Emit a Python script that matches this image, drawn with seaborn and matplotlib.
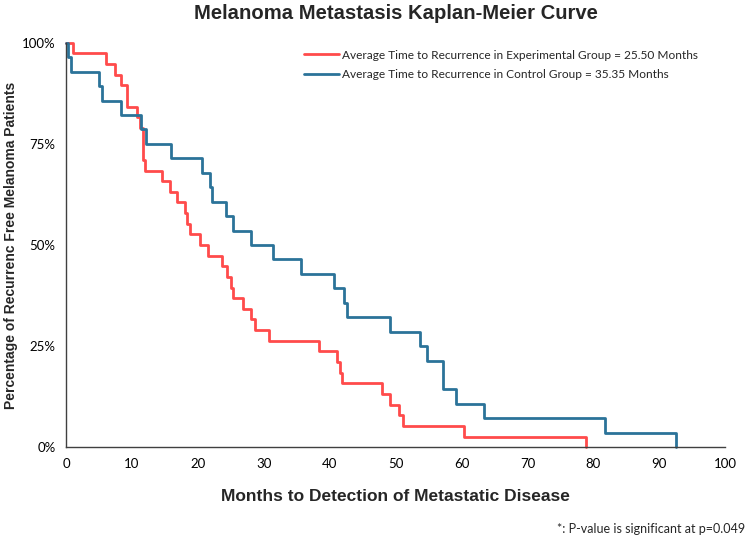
import numpy as np
import pandas as pd
import matplotlib
matplotlib.use("Agg")
import matplotlib.pyplot as plt
import seaborn as sns
from matplotlib.ticker import PercentFormatter

# event times (months), one entry per patient
exp_times = [1.0, 6.1, 7.5, 8.3, 9.3, 9.3, 10.8, 11.2, 11.7, 11.7, 11.7, 12.0,
             14.6, 15.7, 16.8, 18.0, 18.4, 18.8, 20.4, 21.6, 23.6, 24.4, 25.1,
             25.4, 26.8, 28.0, 28.6, 30.8, 38.4, 41.1, 41.5, 41.9, 48.0, 49.1,
             50.5, 51.1, 60.4, 78.9]
ctrl_times = [0.3, 0.8, 5.0, 5.4, 8.4, 11.4, 12.1, 16.0, 20.7, 21.8, 22.2,
              24.3, 25.4, 28.1, 31.4, 35.6, 40.7, 42.2, 42.6, 49.1, 53.7, 54.8,
              57.2, 57.2, 59.1, 63.4, 81.7, 92.5]
group_labels = ["Average Time to Recurrence in Experimental Group = 25.50 Months",
                "Average Time to Recurrence in Control Group = 35.35 Months"]
colors = ["#FF4B4B", "#2B7399"]

x_ticks = list(range(0, 101, 10))
y_ticks = [0, 0.25, 0.5, 0.75, 1.0]


def km_table(times, label):
    # Kaplan-Meier with no censoring: survival drops 1/n per event
    t = np.sort(np.array(times))
    n = len(t)
    xs = np.concatenate([[0.0], t])
    ys = np.concatenate([[1.0], 1 - np.arange(1, n + 1) / n])
    return pd.DataFrame({"month": xs, "surv": ys, "group": label})


df = pd.concat([km_table(exp_times, group_labels[0]),
                km_table(ctrl_times, group_labels[1])], ignore_index=True)

sns.set_style("white")
plt.rcParams["font.family"] = ["Liberation Sans", "DejaVu Sans"]

fig, ax = plt.subplots(figsize=(7.5, 5.42), dpi=100)
plt.subplots_adjust(left=0.088, right=0.967, top=0.921, bottom=0.175)

sns.lineplot(data=df, x="month", y="surv", hue="group", palette=colors,
             estimator=None, sort=False, drawstyle="steps-post",
             linewidth=2, ax=ax, clip_on=False)

ax.set_xlim(0, 100)
ax.set_ylim(0, 1)
ax.set_xticks(x_ticks)
ax.set_yticks(y_ticks)
ax.yaxis.set_major_formatter(PercentFormatter(1.0, decimals=0))
ax.tick_params(direction="inout", length=8, width=1, colors="#404040",
               labelsize=9.5, labelcolor="black")
for lab in ax.get_xticklabels() + ax.get_yticklabels():
    lab.set_family(["Lato", "DejaVu Sans"])

for side in ["top", "right"]:
    ax.spines[side].set_visible(False)
for side in ["left", "bottom"]:
    ax.spines[side].set_color("#404040")
    ax.spines[side].set_linewidth(1)

ax.set_title("Melanoma Metastasis Kaplan-Meier Curve", fontsize=14.6,
             fontweight="bold", pad=17)
ax.set_xlabel("Months to Detection of Metastatic Disease", fontsize=12.5,
              fontweight="bold", labelpad=14)
ax.set_ylabel("Percentage of Recurrenc Free Melanoma Patients", fontsize=10,
              fontweight="bold")
ax.yaxis.set_label_coords(-0.073, 0.5)

leg = ax.legend(loc="upper left", bbox_to_anchor=(0.345, 1.01), frameon=False,
                fontsize=8.6, handlelength=2.9, handletextpad=0.25,
                labelspacing=0.75)
for txt in leg.get_texts():
    txt.set_family(["Lato", "DejaVu Sans"])

fig.text(0.993, 0.013, "*: P-value is significant at p=0.049", ha="right",
         va="bottom", fontsize=9, family=["Lato", "DejaVu Sans"])

fig.savefig("out.png", dpi=100)
